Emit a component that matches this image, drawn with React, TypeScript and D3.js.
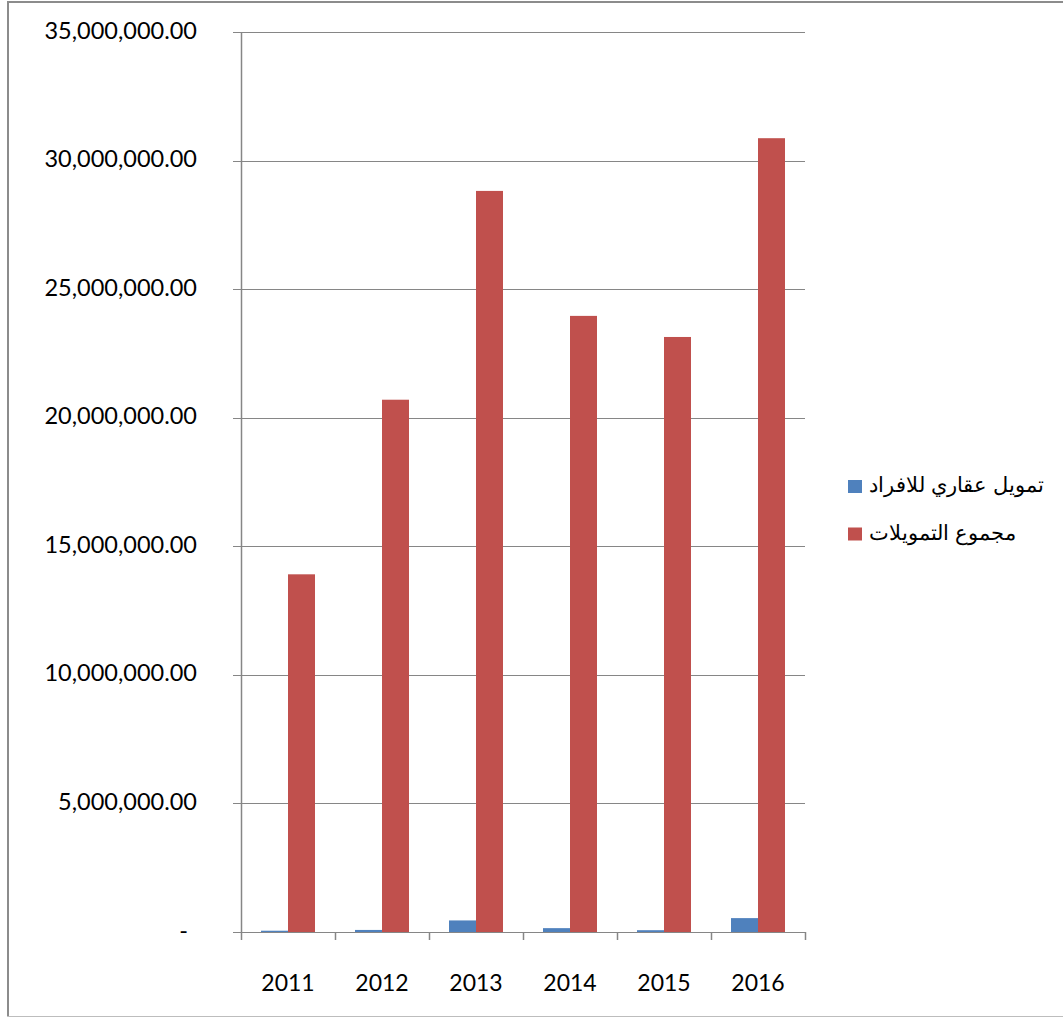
import React from "react";
import * as d3 from "d3";

const years = ["2011", "2012", "2013", "2014", "2015", "2016"];
const seriesNames = ["تمويل عقاري للافراد", "مجموع التمويلات"];
const realEstate = [50000, 80000, 450000, 150000, 70000, 540000];
const totalFinancing = [13910000, 20700000, 28820000, 23960000, 23140000, 30870000];
const yTicks = [0, 5000000, 10000000, 15000000, 20000000, 25000000, 30000000, 35000000];
const colors = ["#4F81BD", "#C0504D"];

const W = 1063;
const H = 1018;
const left = 241;
const right = 805;
const top = 32;
const bottom = 932;

export default function App() {
  const x = d3.scaleBand<string>().domain(years).range([left, right]).paddingInner(0).paddingOuter(0);
  const y = d3.scaleLinear().domain([0, 35000000]).range([bottom, top]);
  const groupW = 54;
  const inner = d3.scaleBand<number>().domain([0, 1]).range([0, groupW]).padding(0);
  const series = [realEstate, totalFinancing];
  const fmt = (v: number) => (v === 0 ? "-" : d3.format(",.2f")(v));
  const gridColor = "#868686";
  const boundaries = [...years.map((yr) => x(yr) as number), right];

  return (
    <svg width={W} height={H} style={{ position: "absolute", left: 0, top: 0, background: "#fff" }}>
      <rect x={0} y={0} width={W} height={H} fill="#fff" />
      {/* frame */}
      <path d={`M8,${H - 1.5} L8,2 L${W + 2},2`} fill="none" stroke="#8c8c8c" strokeWidth={2} />
      <line x1={8} x2={W} y1={H - 1.5} y2={H - 1.5} stroke="#bdbdbd" strokeWidth={1} />
      {/* gridlines */}
      {yTicks.map((t) => (
        <line key={"g" + t} x1={233} x2={right} y1={Math.round(y(t)) + 0.5} y2={Math.round(y(t)) + 0.5} stroke={gridColor} strokeWidth={1.2} />
      ))}
      {/* y axis */}
      <line x1={left + 0.5} x2={left + 0.5} y1={top} y2={bottom} stroke={gridColor} strokeWidth={1.5} />
      {/* x ticks */}
      {boundaries.map((b, i) => (
        <line key={"xt" + i} x1={b + 0.5} x2={b + 0.5} y1={bottom} y2={940} stroke={gridColor} strokeWidth={1.5} />
      ))}
      {/* bars */}
      {series.map((s, si) =>
        years.map((yr, i) => {
          const cx = (x(yr) as number) + x.bandwidth() / 2 - groupW / 2 + (inner(si) as number);
          return (
            <rect
              key={si + "-" + yr}
              x={cx}
              y={y(s[i])}
              width={inner.bandwidth()}
              height={bottom - y(s[i])}
              fill={colors[si]}
            />
          );
        })
      )}
      {/* y labels */}
      {yTicks.map((t) => (
        <text
          key={"yl" + t}
          x={t === 0 ? 188 : 197}
          y={y(t) + 6.5}
          textAnchor="end"
          fontFamily="Lato, 'Open Sans', sans-serif"
          fontSize={23.5}
          fill="#000"
        >
          {fmt(t)}
        </text>
      ))}
      {/* x labels */}
      {years.map((yr) => (
        <text
          key={"xl" + yr}
          x={(x(yr) as number) + x.bandwidth() / 2}
          y={991}
          textAnchor="middle"
          fontFamily="Lato, 'Open Sans', sans-serif"
          fontSize={23}
          fill="#000"
        >
          {yr}
        </text>
      ))}
      {/* legend */}
      {seriesNames.map((n, i) => (
        <g key={"lg" + i}>
          <rect x={848} y={480 + i * 47.5} width={14} height={13} fill={colors[i]} />
          <text
            x={869}
            y={492 + i * 48}
            fontFamily="'Liberation Sans', Arial, sans-serif"
            fontSize={21}
            fill="#000"
          >
            {n}
          </text>
        </g>
      ))}
    </svg>
  );
}
